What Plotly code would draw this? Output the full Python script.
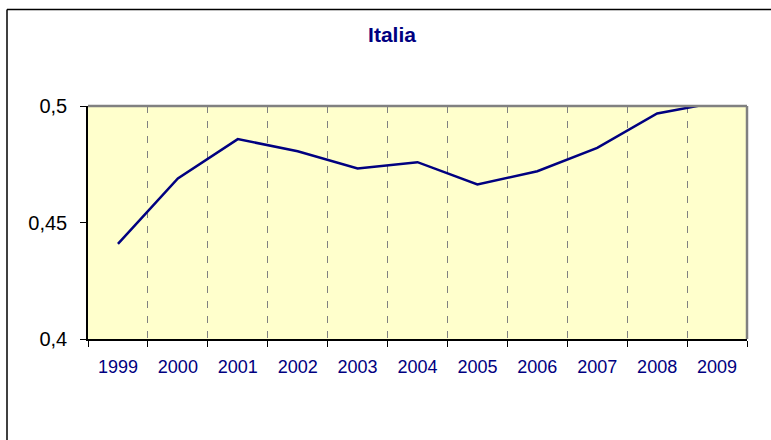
import plotly.graph_objects as go

years = ["1999", "2000", "2001", "2002", "2003", "2004", "2005", "2006", "2007", "2008", "2009"]
values = [0.4408, 0.4689, 0.4858, 0.4806, 0.4732, 0.4759, 0.4663, 0.4720, 0.4820, 0.4968, 0.5016]
y_ticks = [0.4, 0.45, 0.5]
title_text = "Italia"

W, H = 771, 440
ml, mr, mt, mb = 88, 24, 105.5, 100.5
pw, ph = W - ml - mr, H - mt - mb

def px_x(x):
    return (x - ml) / pw

def px_y(y):
    return (H - mb - y) / ph

fig = go.Figure()
fig.add_trace(go.Scatter(
    x=years, y=values, mode="lines",
    line=dict(color="#000080", width=2.5),
    hoverinfo="x+y",
))

fig.update_layout(
    width=W, height=H,
    margin=dict(l=ml, r=mr, t=mt, b=mb, pad=0, autoexpand=False),
    paper_bgcolor="white",
    plot_bgcolor="#FFFFCC",
    separators=",.",
    showlegend=False,
    font=dict(family="Arial, Liberation Sans, sans-serif"),
    title=dict(
        text="<b>" + title_text + "</b>",
        font=dict(size=21, color="#000080", family="Arial, Liberation Sans, sans-serif"),
        x=px_x(392), xref="paper", xanchor="center",
        y=1 - 35 / H, yref="container", yanchor="middle",
    ),
    xaxis=dict(
        type="category",
        range=[-0.5, len(years) - 0.5],
        tickson="boundaries",
        ticks="outside", ticklen=6, tickcolor="black", tickwidth=1,
        showline=True, linecolor="black", linewidth=1.5,
        showgrid=True, gridcolor="#808080", gridwidth=1, griddash="7px,8px",
        tickfont=dict(size=18, color="#000080"),
        ticklabelstandoff=11,
        zeroline=False,
        automargin=False,
        fixedrange=True,
    ),
    yaxis=dict(
        range=[0.4, 0.5],
        tickvals=y_ticks,
        ticks="outside", ticklen=6, tickcolor="black", tickwidth=1,
        showline=True, linecolor="black", linewidth=1.5,
        showgrid=False, zeroline=False,
        tickfont=dict(size=20, color="black"),
        ticklabelstandoff=9,
        automargin=False,
        fixedrange=True,
    ),
    shapes=[
        # gray top and right plot borders
        dict(type="line", xref="paper", yref="paper", x0=0, x1=1, y0=1, y1=1,
             line=dict(color="#808080", width=2.5)),
        dict(type="line", xref="paper", yref="paper", x0=1, x1=1, y0=0, y1=1,
             line=dict(color="#808080", width=2.5)),
        # outer chart frame (left and top)
        dict(type="line", xref="paper", yref="paper",
             x0=px_x(7), x1=px_x(7), y0=px_y(8.5), y1=px_y(460),
             line=dict(color="black", width=1.5)),
        dict(type="line", xref="paper", yref="paper",
             x0=px_x(7), x1=px_x(790), y0=px_y(8.5), y1=px_y(8.5),
             line=dict(color="black", width=1.5)),
    ],
)

fig.write_html(
    "out.html",
    config={"displayModeBar": False},
    post_script="document.body.style.margin='0';document.body.style.overflow='hidden';",
)
